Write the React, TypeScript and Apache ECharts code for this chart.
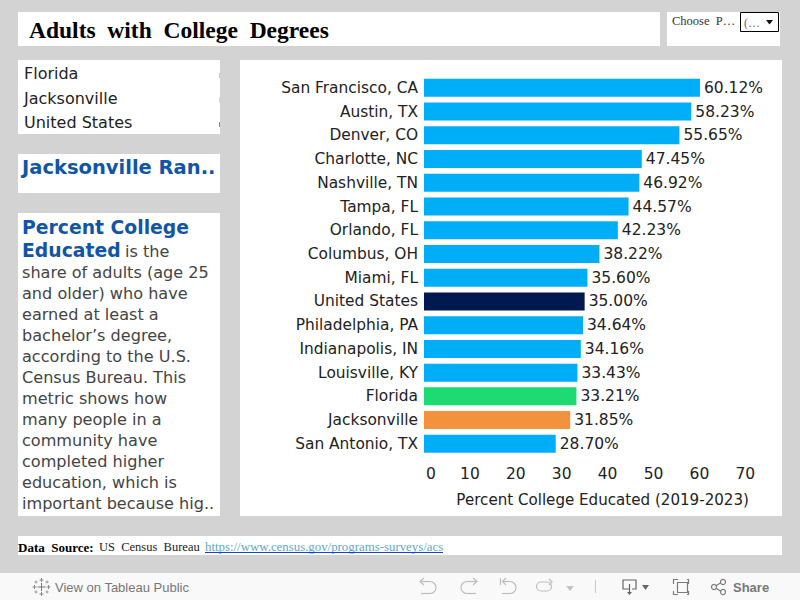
import React, { useEffect, useRef } from "react";
import * as echarts from "echarts";

const categories = ["San Francisco, CA", "Austin, TX", "Denver, CO", "Charlotte, NC", "Nashville, TN", "Tampa, FL", "Orlando, FL", "Columbus, OH", "Miami, FL", "United States", "Philadelphia, PA", "Indianapolis, IN", "Louisville, KY", "Florida", "Jacksonville", "San Antonio, TX"];
const values = [60.12, 58.23, 55.65, 47.45, 46.92, 44.57, 42.23, 38.22, 35.6, 35.0, 34.64, 34.16, 33.43, 33.21, 31.85, 28.7];
const specialColors: Record<string, string> = { "United States": "#00194f", Florida: "#1bdb72", Jacksonville: "#f2923c" };
const legendItems = ["Florida", "Jacksonville", "United States"];
const paragraphLines = ["share of adults (age 25", "and older) who have", "earned at least a", "bachelor’s degree,", "according to the U.S.", "Census Bureau. This", "metric shows how", "many people in a", "community have", "completed higher", "education, which is", "important because hig.."];

const SANS = "'DejaVu Sans', Verdana, sans-serif";
const SERIF = "'Liberation Serif', serif";
const UI = "'Liberation Sans', Arial, sans-serif";

function panel(x: number, y: number, width: number, height: number, fill = "#ffffff") {
  return { type: "rect", silent: true, z: 0, shape: { x, y, width, height }, style: { fill } };
}
function label(x: number, y: number, text: string, font: string, fill: string, extra: any = {}) {
  return { type: "text", silent: true, z: 5, x, y, style: { text, font, fill, textVerticalAlign: "middle", ...extra } };
}
function stroke(type: string, shape: any, color = "#bdbdbd", lineWidth = 1.2) {
  return { type, silent: true, z: 5, shape, style: { stroke: color, lineWidth, fill: "none" } };
}
function cross(cx: number, cy: number, r: number, color: string) {
  return [
    stroke("line", { x1: cx - r, y1: cy, x2: cx + r, y2: cy }, color, 1),
    stroke("line", { x1: cx, y1: cy - r, x2: cx, y2: cy + r }, color, 1),
  ];
}
const HALF = Math.PI / 2;

export default function App() {
  const ref = useRef<HTMLDivElement>(null);
  useEffect(() => {
    document.body.style.margin = "0";
    const chart = echarts.init(ref.current!, undefined, { renderer: "svg" });
    const g = "#7a7a7a";
    const graphic: any[] = [
      panel(18, 12, 642, 34),
      panel(667, 12, 113, 34),
      panel(18, 60, 202, 74),
      panel(18, 154, 202, 39),
      panel(18, 213, 202, 303),
      panel(240, 60, 542, 456),
      panel(18, 536, 764, 19),
      panel(0, 573, 800, 27, "#f9f9f9"),
      label(29, 30, "Adults  with  College  Degrees", `bold 23.5px ${SERIF}`, "#000000"),
      label(672, 21, "Choose  P…", `12.5px ${SERIF}`, "#333333"),
      { type: "rect", silent: true, z: 5, shape: { x: 740.5, y: 12.5, width: 38, height: 19 }, style: { fill: "#ffffff", stroke: "#000000", lineWidth: 1 } },
      label(744, 23, "(…", `12px ${SERIF}`, "#666666"),
      { type: "polygon", silent: true, z: 5, shape: { points: [[766, 20], [773, 20], [769.5, 24.5]] }, style: { fill: "#111111" } },
      ...legendItems.map((t, i) => label(24, 73.5 + i * 24.5, t, `16px ${SANS}`, "#222222")),
      ...legendItems.map((t, i) => ({ type: "rect", silent: true, z: 5, shape: { x: 219, y: 73 + i * 24.5, width: 1, height: 5 }, style: { fill: specialColors[t], opacity: 0.5 } })),
      label(22, 167, "Jacksonville Ran..", `bold 19.5px ${SANS}`, "#1155a8"),
      label(22, 227, "Percent College", `bold 18.8px ${SANS}`, "#1155a8"),
      label(22, 250, "Educated", `bold 18.8px ${SANS}`, "#1155a8"),
      label(125, 251, "is the", `16.1px ${SANS}`, "#444444"),
      ...paragraphLines.map((t, i) => label(22, 272.5 + i * 21, t, `16.1px ${SANS}`, "#444444")),
      label(18, 547, "Data  Source:", `bold 13px ${SERIF}`, "#000000"),
      label(99, 547, "US  Census  Bureau", `12.5px ${SERIF}`, "#222222"),
      label(205, 547, "https://www.census.gov/programs-surveys/acs", `12.85px ${SERIF}`, "#5fa8c8"),
      stroke("line", { x1: 205, y1: 552.5, x2: 443, y2: 552.5 }, "#1a3fe0", 1),
      label(55, 587, "View on Tableau Public", `13px ${UI}`, "#777777"),
      label(733, 587, "Share", `bold 13px ${UI}`, "#777777"),
      // Tableau mark
      ...cross(41.5, 587, 4, "#777777"),
      ...cross(41.5, 580, 2, "#888888"),
      ...cross(41.5, 594, 2, "#888888"),
      ...cross(34.5, 587, 2, "#888888"),
      ...cross(48.5, 587, 2, "#888888"),
      ...cross(36, 582, 1.5, "#999999"),
      ...cross(47, 582, 1.5, "#999999"),
      ...cross(36, 592, 1.5, "#999999"),
      ...cross(47, 592, 1.5, "#999999"),
      // undo
      stroke("line", { x1: 421, y1: 581.5, x2: 430, y2: 581.5 }),
      stroke("arc", { cx: 430, cy: 587.5, r: 6, startAngle: -HALF, endAngle: HALF, clockwise: true }),
      stroke("line", { x1: 430, y1: 593.5, x2: 421, y2: 593.5 }),
      stroke("polyline", { points: [[424, 578], [420, 581.5], [424, 585]] }),
      // redo
      stroke("line", { x1: 476, y1: 581.5, x2: 467, y2: 581.5 }),
      stroke("arc", { cx: 467, cy: 587.5, r: 6, startAngle: HALF, endAngle: -HALF, clockwise: true }),
      stroke("line", { x1: 467, y1: 593.5, x2: 476, y2: 593.5 }),
      stroke("polyline", { points: [[473, 578], [477, 581.5], [473, 585]] }),
      // revert
      stroke("line", { x1: 503, y1: 581.5, x2: 510, y2: 581.5 }),
      stroke("arc", { cx: 510, cy: 587.5, r: 6, startAngle: -HALF, endAngle: HALF, clockwise: true }),
      stroke("line", { x1: 510, y1: 593.5, x2: 502, y2: 593.5 }),
      stroke("polyline", { points: [[506, 578], [502.5, 581.5], [506, 585]] }),
      stroke("line", { x1: 500.5, y1: 578, x2: 500.5, y2: 585 }),
      // refresh
      { type: "rect", silent: true, z: 5, shape: { x: 536.5, y: 582, width: 15, height: 9, r: 4.5 }, style: { fill: "none", stroke: "#bdbdbd", lineWidth: 1.2 } },
      stroke("polyline", { points: [[549, 579], [552, 582], [549, 585]] }),
      { type: "polygon", silent: true, z: 5, shape: { points: [[566, 586], [574, 586], [570, 591]] }, style: { fill: "#c4c4c4" } },
      stroke("line", { x1: 595.5, y1: 580, x2: 595.5, y2: 593 }, "#c8c8c8", 1),
      stroke("polyline", { points: [[629, 589], [623, 589], [623, 580], [636, 580], [636, 589], [632, 589]] }, "#666666"),
      stroke("line", { x1: 629.5, y1: 584, x2: 629.5, y2: 594 }, "#666666"),
      { type: "polygon", silent: true, z: 5, shape: { points: [[627, 592], [632, 592], [629.5, 595]] }, style: { fill: "#666666" } },
      { type: "polygon", silent: true, z: 5, shape: { points: [[642, 585], [649, 585], [645.5, 590]] }, style: { fill: "#666666" } },
      { type: "rect", silent: true, z: 5, shape: { x: 677.5, y: 582.5, width: 10, height: 10 }, style: { fill: "none", stroke: g, lineWidth: 1.2 } },
      stroke("polyline", { points: [[673.5, 584], [673.5, 579.5], [678, 579.5]] }, g),
      stroke("polyline", { points: [[687, 579.5], [688.5, 579.5], [688.5, 584]] }, g),
      stroke("polyline", { points: [[673.5, 591], [673.5, 594.5], [678, 594.5]] }, g),
      stroke("polyline", { points: [[687, 594.5], [688.5, 594.5], [688.5, 591]] }, g),
      stroke("polyline", { points: [[722, 582], [714, 587], [722, 592]] }, g),
      { type: "circle", silent: true, z: 6, shape: { cx: 714, cy: 587, r: 2.5 }, style: { fill: "#f9f9f9", stroke: g, lineWidth: 1.2 } },
      { type: "circle", silent: true, z: 6, shape: { cx: 723, cy: 582, r: 2.5 }, style: { fill: "#f9f9f9", stroke: g, lineWidth: 1.2 } },
      { type: "circle", silent: true, z: 6, shape: { cx: 723, cy: 592, r: 2.5 }, style: { fill: "#f9f9f9", stroke: g, lineWidth: 1.2 } },
    ];
    chart.setOption({
      animation: false,
      backgroundColor: "#d3d3d3",
      textStyle: { fontFamily: SANS },
      graphic: { elements: graphic },
      grid: { left: 424, top: 76, width: 321.3, height: 379.7, containLabel: false },
      xAxis: {
        type: "value", min: 0, max: 70, interval: 10, position: "bottom",
        splitLine: { show: false }, axisLine: { show: false }, axisTick: { show: false },
        axisLabel: {
          color: "#222222", fontSize: 15.5, margin: 10, hideOverlap: false,
          formatter: (v: number) => (v === 0 ? "{z|0}" : String(v)),
          rich: { z: { fontSize: 15.5, color: "#222222", fontFamily: SANS, padding: [0, 0, 0, 14] } },
        },
        name: "Percent College Educated (2019-2023)",
        nameLocation: "middle", nameGap: 37,
        nameTextStyle: { color: "#222222", fontSize: 15.1, padding: [0, 0, 0, 36] },
      },
      yAxis: {
        type: "category", data: categories, inverse: true,
        axisLine: { show: false }, axisTick: { show: false }, splitLine: { show: false },
        axisLabel: { color: "#222222", fontSize: 15.4, margin: 6, interval: 0 },
      },
      series: [{
        type: "bar", barWidth: 18,
        data: values.map((v, i) => ({ value: v, itemStyle: { color: specialColors[categories[i]] ?? "#00adf7" } })),
        label: { show: true, position: "right", distance: 4, color: "#222222", fontSize: 15.5, formatter: (p: any) => `${Number(p.value).toFixed(2)}%` },
      }],
    });
    return () => chart.dispose();
  }, []);
  return <div ref={ref} style={{ width: 800, height: 600 }} />;
}
